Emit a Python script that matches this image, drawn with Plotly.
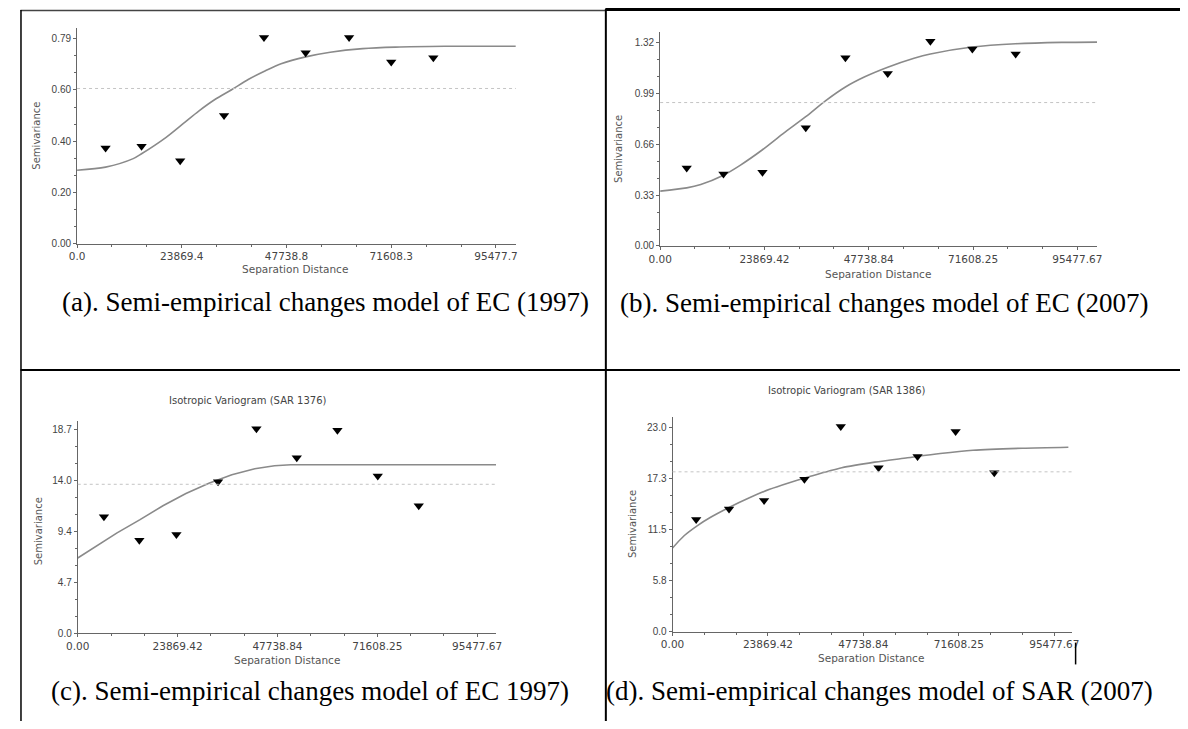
import plotly.graph_objects as go

# The page body keeps the browser's default 8px margin, so the figure is
# drawn 16px smaller than the window and offset by that margin.
PAGE_W, PAGE_H = 1188, 729
OFF = 8
W, H = PAGE_W - 2 * OFF, PAGE_H - 2 * OFF

# ---------------- data ----------------
x_tick_max = 95477.67          # last labelled lag on every panel
x_axis_end = 100000            # axis runs a little past the last label

ticks_x_a = ["0.0", "23869.4", "47738.8", "71608.3", "95477.7"]
ticks_x_bcd = ["0.00", "23869.42", "47738.84", "71608.25", "95477.67"]

ticks_y_a = ["0.00", "0.20", "0.40", "0.60", "0.79"]
ticks_y_b = ["0.00", "0.33", "0.66", "0.99", "1.32"]
ticks_y_c = ["0.0", "4.7", "9.4", "14.0", "18.7"]
ticks_y_d = ["0.0", "5.8", "11.5", "17.3", "23.0"]

ytop_a, ytop_b, ytop_c, ytop_d = 0.7975, 1.32, 18.7, 23.0

# (a) EC 1997
lag_a = [6500, 14700, 23500, 33500, 42600, 52100, 62000, 71600, 81200]
semi_a = [0.372, 0.379, 0.323, 0.499, 0.802, 0.743, 0.802, 0.707, 0.724]
model_x_a = [0, 6500, 12800, 14700, 20300, 24100, 27800, 31500, 35300, 39000,
             42700, 46500, 52100, 57700, 65100, 72600, 83800, 100000]
model_y_a = [0.286, 0.298, 0.331, 0.350, 0.414, 0.466, 0.517, 0.562, 0.600, 0.639,
             0.671, 0.700, 0.727, 0.745, 0.759, 0.765, 0.768, 0.768]
var_a = 0.604

# (b) EC 2007
lag_b = [6080, 14490, 23420, 33330, 42410, 52090, 61850, 71460, 81370]
semi_b = [0.506, 0.467, 0.478, 0.767, 1.221, 1.119, 1.327, 1.277, 1.245]
model_x_b = [0, 6080, 9300, 14490, 18300, 23420, 28070, 33330, 37830, 42410,
             46840, 52090, 58100, 61850, 71460, 81370, 91870, 100000]
model_y_b = [0.356, 0.377, 0.399, 0.459, 0.523, 0.624, 0.727, 0.838, 0.941, 1.031,
             1.097, 1.159, 1.217, 1.245, 1.290, 1.311, 1.320, 1.322]
var_b = 0.930

# (c) SAR 1376
lag_c = [6260, 14730, 23590, 33540, 42710, 52360, 62080, 71720, 81520]
semi_c = [10.72, 8.56, 9.08, 13.93, 18.79, 16.12, 18.64, 14.45, 11.72]
model_x_c = [0, 4700, 9400, 14890, 20370, 25860, 31350, 36840, 42320, 47030, 50950, 100000]
model_y_c = [6.92, 8.07, 9.23, 10.44, 11.72, 12.84, 13.78, 14.57, 15.12, 15.39, 15.48, 15.48]
var_c = 13.69

# (d) SAR 1386
lag_d = [5910, 14130, 22890, 32980, 42080, 51530, 61280, 70800, 80470]
semi_d = [12.62, 13.81, 14.78, 17.16, 23.11, 18.46, 19.72, 22.55, 17.90]
model_x_d = [0, 2960, 6240, 9520, 14120, 19370, 24290, 29210, 34130, 42330,
             50540, 58740, 66940, 75150, 87450, 99000]
model_y_d = [9.42, 10.83, 11.95, 12.88, 13.99, 15.11, 16.04, 16.78, 17.45, 18.46,
             19.09, 19.58, 20.06, 20.43, 20.66, 20.77]
var_d = 18.0

captions = ["(a). Semi-empirical changes model of EC (1997)",
            "(b). Semi-empirical changes model of EC (2007)",
            "(c). Semi-empirical changes model of EC 1997)",
            "(d). Semi-empirical changes model of SAR (2007)"]
titles = ["", "", "Isotropic Variogram (SAR 1376)", "Isotropic Variogram (SAR 1386)"]


# ---------------- layout geometry (page pixels -> paper) ----------------
def px(x):
    return (x - OFF) / W


def py(y):
    return 1 - (y - OFF) / H


panels = [
    dict(lag=lag_a, semi=semi_a, mx=model_x_a, my=model_y_a, var=var_a, xt=ticks_x_a, yt=ticks_y_a,
         ytop=ytop_a, x0=66, x1=512, y0=245.7, ytick=39, yend=28, spline=True,
         xlab=(288, 271.5), ylab=(25, 137), cap=(319, 304), title=None),
    dict(lag=lag_b, semi=semi_b, mx=model_x_b, my=model_y_b, var=var_b, xt=ticks_x_bcd, yt=ticks_y_b,
         ytop=ytop_b, x0=658.7, x1=1102.8, y0=248, ytick=42.7, yend=32.7, spline=True,
         xlab=(880, 276), ylab=(617, 150), cap=(887, 305), title=None),
    dict(lag=lag_c, semi=semi_c, mx=model_x_c, my=model_y_c, var=var_c, xt=ticks_x_bcd, yt=ticks_y_c,
         ytop=ytop_c, x0=66.7, x1=491.9, y0=638.7, ytick=433.3, yend=425, spline=False,
         xlab=(279, 665.7), ylab=(27, 536), cap=(303, 697), title=(240, 403.5)),
    dict(lag=lag_d, semi=semi_d, mx=model_x_d, my=model_y_d, var=var_d, xt=ticks_x_bcd, yt=ticks_y_d,
         ytop=ytop_d, x0=671.3, x1=1077.7, y0=637, ytick=431, yend=420, spline=True,
         xlab=(873, 664), ylab=(630.5, 528), cap=(882, 697), title=(849, 394)),
]

AX = "#666666"
TXT = "#444444"

fig = go.Figure()
annotations = []
shapes = []
layout_axes = {}

for i, p in enumerate(panels):
    n = "" if i == 0 else str(i + 1)
    xa, ya = "x" + n, "y" + n
    yrange_top = p["ytop"] * (p["y0"] - p["yend"]) / (p["y0"] - p["ytick"])

    # model curve
    fig.add_trace(go.Scatter(
        x=p["mx"], y=p["my"], xaxis=xa, yaxis=ya, mode="lines",
        line=dict(color="#8a8a8a", width=1.6, shape="spline" if p["spline"] else "linear", smoothing=0.8),
        hoverinfo="skip", showlegend=False))
    # empirical semivariances
    fig.add_trace(go.Scatter(
        x=p["lag"], y=p["semi"], xaxis=xa, yaxis=ya, mode="markers",
        marker=dict(symbol="triangle-down", size=9, color="black"),
        showlegend=False))
    # sample variance (dotted)
    shapes.append(dict(type="line", xref=xa + " domain", yref=ya, x0=0, x1=1,
                       y0=p["var"], y1=p["var"],
                       line=dict(color="#c4c4c4", width=1, dash="dot")))

    xmaj = [k * x_tick_max / 4 for k in range(5)]
    xmin = [k * x_tick_max / 12 for k in range(13) if k % 3]
    ymaj = [k * p["ytop"] / 4 for k in range(5)]
    ymin = [k * p["ytop"] / 12 for k in range(13) if k % 3]

    layout_axes["xaxis" + n] = dict(
        domain=[px(p["x0"]), px(p["x1"])], range=[0, x_axis_end], anchor=ya,
        showgrid=False, zeroline=False, showline=True, linecolor=AX, linewidth=1,
        tickmode="array", tickvals=xmaj, ticktext=p["xt"], ticks="outside", ticklen=3,
        tickcolor=AX, tickfont=dict(family="DejaVu Sans", size=10.5, color=TXT),
        minor=dict(tickmode="array", tickvals=xmin, ticks="outside", ticklen=2, tickcolor=AX),
        fixedrange=True)
    layout_axes["yaxis" + n] = dict(
        domain=[py(p["y0"]), py(p["yend"])], range=[0, yrange_top], anchor=xa,
        showgrid=False, zeroline=False, showline=True, linecolor=AX, linewidth=1,
        tickmode="array", tickvals=ymaj, ticktext=p["yt"], ticks="outside", ticklen=3,
        tickcolor=AX, tickfont=dict(family="Liberation Sans", size=10, color=TXT),
        minor=dict(tickmode="array", tickvals=ymin, ticks="outside", ticklen=2, tickcolor=AX),
        fixedrange=True)

    annotations.append(dict(text="Separation Distance", xref="paper", yref="paper",
                            x=px(p["xlab"][0]), y=py(p["xlab"][1]), showarrow=False,
                            xanchor="center", yanchor="middle",
                            font=dict(family="DejaVu Sans", size=10.5, color="#555555")))
    annotations.append(dict(text="Semivariance", xref="paper", yref="paper", textangle=-90,
                            x=px(p["ylab"][0]), y=py(p["ylab"][1]), showarrow=False,
                            xanchor="center", yanchor="middle",
                            font=dict(family="DejaVu Sans", size=10, color="#555555")))
    annotations.append(dict(text=captions[i], xref="paper", yref="paper",
                            x=px(p["cap"][0]), y=py(p["cap"][1]), showarrow=False,
                            xanchor="center", yanchor="middle",
                            font=dict(family="Liberation Serif", size=27, color="black")))
    if p["title"]:
        annotations.append(dict(text=titles[i], xref="paper", yref="paper",
                                x=px(p["title"][0]), y=py(p["title"][1]), showarrow=False,
                                xanchor="center", yanchor="middle",
                                font=dict(family="DejaVu Sans", size=10, color="#444444")))


# table borders
def hline(y, x0, x1, w, c="black"):
    shapes.append(dict(type="line", xref="paper", yref="paper", x0=px(x0), x1=px(x1),
                       y0=py(y), y1=py(y), line=dict(color=c, width=w)))


def vline(x, y0, y1, w, c="black"):
    shapes.append(dict(type="line", xref="paper", yref="paper", x0=px(x), x1=px(x),
                       y0=py(y0), y1=py(y1), line=dict(color=c, width=w)))


hline(10.5, 8.5, 603, 1.5, "#444444")
hline(9.5, 603, PAGE_W, 3)
vline(9, 10, PAGE_H, 1.5)
vline(603.5, 9, PAGE_H, 2)
hline(373, 8.5, PAGE_W, 2)
vline(1081, 648, 670, 1.5)

fig.update_layout(
    width=W, height=H, margin=dict(l=0, r=0, t=0, b=0),
    paper_bgcolor="white", plot_bgcolor="white",
    showlegend=False, annotations=annotations, shapes=shapes, **layout_axes)

fig.write_html("out.html", config={"displayModeBar": False})
